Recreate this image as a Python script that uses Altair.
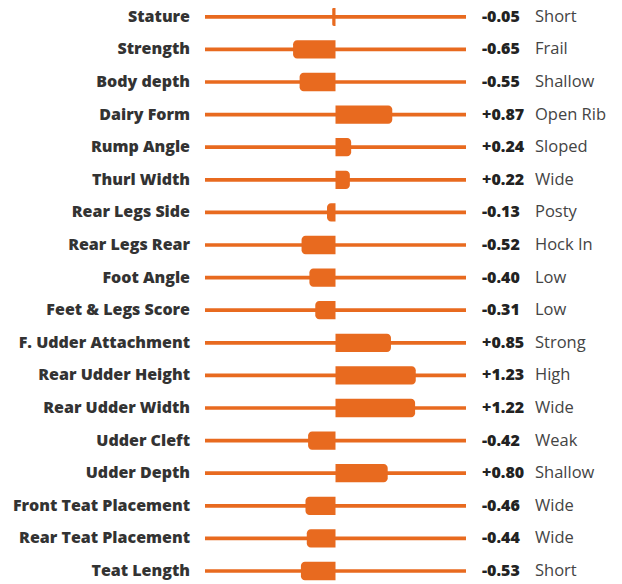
import altair as alt
import pandas as pd

traits = ["Stature", "Strength", "Body depth", "Dairy Form", "Rump Angle", "Thurl Width",
          "Rear Legs Side", "Rear Legs Rear", "Foot Angle", "Feet & Legs Score",
          "F. Udder Attachment", "Rear Udder Height", "Rear Udder Width", "Udder Cleft",
          "Udder Depth", "Front Teat Placement", "Rear Teat Placement", "Teat Length"]
values = [-0.05, -0.65, -0.55, 0.87, 0.24, 0.22, -0.13, -0.52, -0.40, -0.31,
          0.85, 1.23, 1.22, -0.42, 0.80, -0.46, -0.44, -0.53]
descriptions = ["Short", "Frail", "Shallow", "Open Rib", "Sloped", "Wide", "Posty",
                "Hock In", "Low", "Low", "Strong", "High", "Wide", "Weak", "Shallow",
                "Wide", "Wide", "Short"]

df = pd.DataFrame({
    "trait": traits,
    "value": values,
    "desc": descriptions,
    "row": list(range(len(traits))),
    "label": [f"{v:+.2f}" for v in values],
    "zero": [0.0] * len(traits),
})

ORANGE = "#E86A1F"
BOLD_FONT = "Open Sans"
REG_FONT = "Open Sans"

yenc = alt.Y("row:Q", scale=alt.Scale(domain=[-0.27, 17.153], reverse=True, nice=False,
                                       zero=False, padding=0),
             axis=None)
xscale = alt.Scale(domain=[-2, 2], nice=False, zero=False, padding=0)

base = alt.Chart(df)

rules = base.mark_rule(color=ORANGE, strokeWidth=3.7).encode(
    x=alt.X("datum_lo:Q", scale=xscale, axis=None),
    x2="datum_hi:Q",
    y=yenc,
).transform_calculate(datum_lo="-2", datum_hi="2")

pos = base.transform_filter("datum.value >= 0").mark_bar(
    color=ORANGE, size=18.3, orient="horizontal",
    cornerRadiusTopRight=4, cornerRadiusBottomRight=4,
).encode(
    x=alt.X("zero:Q", scale=xscale, axis=None),
    x2="value:Q",
    y=yenc,
)

neg = base.transform_filter("datum.value < 0").mark_bar(
    color=ORANGE, size=18.3, orient="horizontal",
    cornerRadiusTopLeft=4, cornerRadiusBottomLeft=4,
).encode(
    x=alt.X("value:Q", scale=xscale, axis=None),
    x2="zero:Q",
    y=yenc,
)

names = base.mark_text(align="right", baseline="middle", font=BOLD_FONT, fontSize=16,
                       fontWeight=800, color="#333333").encode(
    x=alt.value(-15), y=yenc, text="trait:N")

nums = base.mark_text(align="left", baseline="middle", font=BOLD_FONT, fontSize=16,
                      fontWeight=800, color="#222222").encode(
    x=alt.value(277), y=yenc, text="label:N")

descs = base.mark_text(align="left", baseline="middle", font=REG_FONT, fontSize=16.5,
                       color="#444444").encode(
    x=alt.value(330), y=yenc, text="desc:N")

chart = alt.layer(rules, neg, pos, names, nums, descs).properties(
    width=261, height=568,
    autosize=alt.AutoSizeParams(type="none"),
    padding={"left": 197, "top": 0, "right": 148, "bottom": 12},
).configure_view(strokeWidth=0)

chart.save("out.html", embed_options={"renderer": "svg", "actions": False})
